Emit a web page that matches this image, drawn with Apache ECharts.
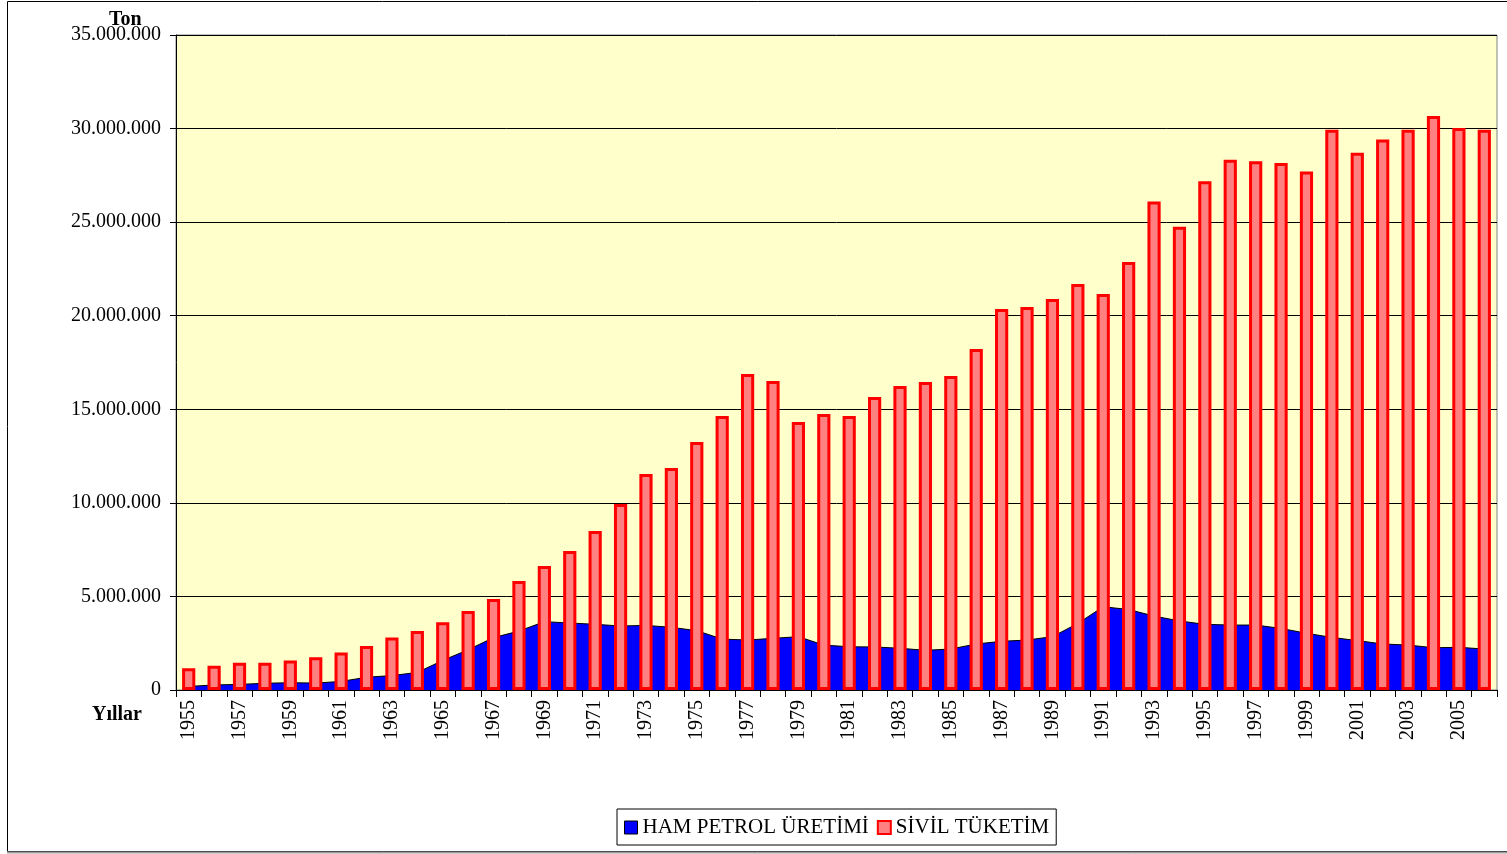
<!DOCTYPE html>
<html>
<head>
<meta charset="utf-8">
<script src="https://cdn.jsdelivr.net/npm/echarts@6/dist/echarts.min.js"></script>
<style>
html,body{margin:0;padding:0;background:#fff;}
#chart{width:1507px;height:854px;}
</style>
</head>
<body>
<div id="chart"></div>
<script>
const years = [1955,1956,1957,1958,1959,1960,1961,1962,1963,1964,1965,1966,1967,1968,1969,1970,1971,1972,1973,1974,1975,1976,1977,1978,1979,1980,1981,1982,1983,1984,1985,1986,1987,1988,1989,1990,1991,1992,1993,1994,1995,1996,1997,1998,1999,2000,2001,2002,2003,2004,2005,2006].map(String);

const hamPetrol = [190000,270000,300000,360000,390000,370000,460000,680000,770000,940000,1580000,2150000,2800000,3150000,3650000,3580000,3510000,3420000,3450000,3350000,3170000,2720000,2670000,2760000,2850000,2400000,2310000,2300000,2230000,2120000,2190000,2460000,2600000,2670000,2850000,3560000,4450000,4300000,3950000,3690000,3510000,3470000,3470000,3290000,3030000,2810000,2640000,2460000,2400000,2260000,2280000,2190000];

const sivilTuketim = [1160000,1300000,1460000,1450000,1570000,1750000,2010000,2350000,2810000,3150000,3620000,4220000,4860000,5820000,6630000,7430000,8500000,9940000,11540000,11860000,13250000,14640000,16890000,16510000,14320000,14750000,14640000,15660000,16240000,16460000,16780000,18220000,20360000,20470000,20890000,21690000,21160000,22870000,26100000,24760000,27180000,28330000,28250000,28160000,27710000,29940000,28710000,29410000,29940000,30670000,30030000,29940000];

const seriesNames = ['HAM PETROL ÜRETİMİ','SİVİL TÜKETİM'];
const axisTitles = {y:'Ton', x:'Yıllar'};

const SERIF = '"Liberation Serif","Times New Roman",serif';
function fmt(v){ if(v===0) return '0'; return String(v).replace(/\B(?=(\d{3})+(?!\d))/g,'.'); }

const chart = echarts.init(document.getElementById('chart'));
chart.setOption({
  animation:false,
  backgroundColor:'#fff',
  graphic:[
    {type:'rect', shape:{x:7.5,y:1.5,width:1520,height:850}, style:{fill:'none',stroke:'#000',lineWidth:1}, z:-1},
    {type:'line', shape:{x1:7,y1:852.5,x2:1507,y2:852.5}, style:{stroke:'#999',lineWidth:2}, z:-1},
    {type:'text', left:109, top:10, style:{text:axisTitles.y, font:'bold 20px '+SERIF, fill:'#000'}},
    {type:'text', left:92, top:705, style:{text:axisTitles.x, font:'bold 20px '+SERIF, fill:'#000'}}
  ],
  grid:{left:176, right:10, top:35, bottom:164, show:true, backgroundColor:'#FFFFCC', borderColor:'#808080', borderWidth:1},
  legend:{
    left:617, top:809, orient:'horizontal',
    padding:[8,7,7,7], itemGap:8,
    borderColor:'#000', borderWidth:1,
    itemWidth:13, itemHeight:13,
    textStyle:{fontFamily:SERIF, fontSize:21, color:'#000', padding:[2,0,0,0]},
    data:[
      {name:seriesNames[0], icon:'rect', itemStyle:{color:'#0000FF', borderColor:'#000', borderWidth:1}},
      {name:seriesNames[1], icon:'rect', itemStyle:{color:'#FF8080', borderColor:'#FF0000', borderWidth:2}}
    ]
  },
  xAxis:{
    type:'category', data:years, boundaryGap:true,
    axisLine:{lineStyle:{color:'#000', width:1}},
    axisTick:{show:true, interval:0, length:7, lineStyle:{color:'#000'}},
    axisLabel:{interval:1, rotate:90, margin:10, fontFamily:SERIF, fontSize:20, color:'#000'},
    splitLine:{show:false}
  },
  yAxis:{
    type:'value', min:0, max:35000000, interval:5000000,
    axisLine:{show:true, lineStyle:{color:'#000', width:1}},
    axisTick:{show:true, length:6, lineStyle:{color:'#000'}},
    axisLabel:{formatter:fmt, margin:15, fontFamily:SERIF, fontSize:20, color:'#000'},
    splitLine:{show:true, lineStyle:{color:'#000', width:1}}
  },
  series:[
    {name:seriesNames[0], type:'line', data:hamPetrol, symbol:'none', z:2,
     lineStyle:{color:'#000', width:1}, itemStyle:{color:'#0000FF'},
     areaStyle:{color:'#0000FF', opacity:1}},
    {name:seriesNames[1], type:'bar', data:sivilTuketim, barWidth:'52%', z:3,
     itemStyle:{color:'#FF8080', borderColor:'#FF0000', borderWidth:3}}
  ]
});
</script>
</body>
</html>
